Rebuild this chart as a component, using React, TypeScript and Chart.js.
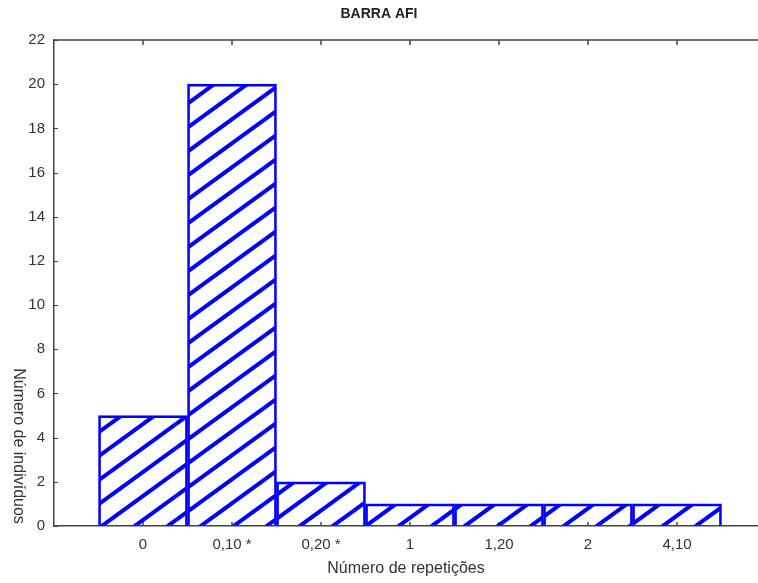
import React, { useEffect, useRef } from "react";
import { Chart, registerables } from "chart.js";

Chart.register(...registerables);

const chartTitle = "BARRA AFI";
const categories = ["0", "0,10 *", "0,20 *", "1", "1,20", "2", "4,10"];
const counts = [5, 20, 2, 1, 1, 1, 1];
const yTickValues = [0, 2, 4, 6, 8, 10, 12, 14, 16, 18, 20, 22];
const xAxisTitle = "Número de repetições";
const yAxisTitle = "Número de indivíduos";

const FONT = "'Liberation Sans', Arial, sans-serif";
const BLUE = "#0000ff";
const AXIS = "#444444";

function makeHatch(): CanvasPattern | string {
  const W = 33;
  const H = 24;
  const c = document.createElement("canvas");
  c.width = W;
  c.height = H;
  const g = c.getContext("2d");
  if (!g) return BLUE;
  g.strokeStyle = BLUE;
  g.lineWidth = 4;
  g.lineCap = "butt";
  // three parallel lines x/W + y/H = k (k = 0, 1, 2), each extended past the tile
  for (const k of [0, 1, 2]) {
    g.beginPath();
    g.moveTo((k - 1) * W - W, 2 * H);
    g.lineTo((k - 1) * W + 2 * W, -H);
    g.stroke();
  }
  const p = g.createPattern(c, "repeat");
  return p || BLUE;
}

const decorPlugin = {
  id: "decor",
  beforeDatasetsDraw(chart: any) {
    const { ctx, chartArea } = chart;
    const xs = chart.scales.x;
    const ys = chart.scales.y;
    ctx.save();
    ctx.strokeStyle = AXIS;
    ctx.lineWidth = 1.5;
    ctx.beginPath();
    ctx.moveTo(chartArea.left, chartArea.top);
    ctx.lineTo(chartArea.right, chartArea.top);
    ctx.stroke();
    ctx.lineWidth = 1;
    for (const v of yTickValues) {
      const y = Math.round(ys.getPixelForValue(v)) + 0.5;
      ctx.beginPath();
      ctx.moveTo(chartArea.left, y);
      ctx.lineTo(chartArea.left + 4, y);
      ctx.stroke();
    }
    ctx.lineWidth = 1.5;
    categories.forEach((_, i) => {
      const x = Math.round(xs.getPixelForValue(i + 1));
      ctx.beginPath();
      ctx.moveTo(x, chartArea.top);
      ctx.lineTo(x, chartArea.top + 5);
      ctx.stroke();
      ctx.beginPath();
      ctx.moveTo(x, chartArea.bottom);
      ctx.lineTo(x, chartArea.bottom - 4);
      ctx.stroke();
    });
    ctx.restore();
  },
  afterDraw(chart: any) {
    const { ctx } = chart;
    ctx.save();
    ctx.fillStyle = "#333333";
    ctx.font = `16px ${FONT}`;
    ctx.textAlign = "center";
    ctx.textBaseline = "middle";
    ctx.translate(18, 446);
    ctx.rotate(Math.PI / 2);
    ctx.fillText(yAxisTitle, 0, 0);
    ctx.restore();
  },
};

export default function App() {
  const ref = useRef<HTMLCanvasElement | null>(null);
  useEffect(() => {
    if (!ref.current) return;
    const hatch = makeHatch();
    const chart = new Chart(ref.current, {
      type: "bar",
      data: {
        datasets: [
          {
            data: counts.map((v, i) => ({ x: i + 1, y: v })),
            backgroundColor: hatch as any,
            borderColor: BLUE,
            borderWidth: 2,
            borderSkipped: "bottom",
            barPercentage: 1,
            categoryPercentage: 1,
          },
        ],
      },
      options: {
        animation: false,
        responsive: false,
        layout: { padding: 0 },
        plugins: {
          legend: { display: false },
          tooltip: { enabled: false },
          title: {
            display: true,
            text: chartTitle,
            color: "#222222",
            font: { family: FONT, size: 14, weight: "bold" },
            padding: { top: 6, bottom: 17.2 },
          },
        },
        scales: {
          x: {
            type: "linear",
            offset: false,
            min: 0,
            max: 7.91,
            afterBuildTicks: (s: any) => {
              s.ticks = categories.map((_, i) => ({ value: i + 1 }));
            },
            afterFit: (s: any) => {
              s.height = 57;
            },
            grid: { display: true, drawOnChartArea: false, drawTicks: false, offset: false },
            border: { display: true, color: AXIS, width: 1.5 },
            ticks: {
              autoSkip: false,
              maxRotation: 0,
              padding: 10,
              color: "#333333",
              font: { family: FONT, size: 15 },
              callback: (v: any) => {
                const i = Math.round(Number(v)) - 1;
                return categories[i] ?? "";
              },
            },
            title: {
              display: true,
              text: xAxisTitle,
              color: "#333333",
              font: { family: FONT, size: 16 },
              padding: { top: 4, bottom: 4.4 },
            },
          },
          y: {
            min: 0,
            max: 22,
            afterBuildTicks: (s: any) => {
              s.ticks = yTickValues.map((v) => ({ value: v }));
            },
            afterFit: (s: any) => {
              s.width = 54;
            },
            grid: { display: true, drawOnChartArea: false, drawTicks: false },
            border: { display: true, color: AXIS, width: 1.5 },
            ticks: {
              padding: 9,
              color: "#333333",
              font: { family: FONT, size: 15 },
            },
          },
        },
      },
      plugins: [decorPlugin],
    });
    return () => chart.destroy();
  }, []);
  return (
    <div style={{ position: "fixed", left: 0, top: 0, width: 758, height: 583, background: "#fff" }}>
      <canvas ref={ref} width={758} height={583} style={{ display: "block" }} />
    </div>
  );
}
